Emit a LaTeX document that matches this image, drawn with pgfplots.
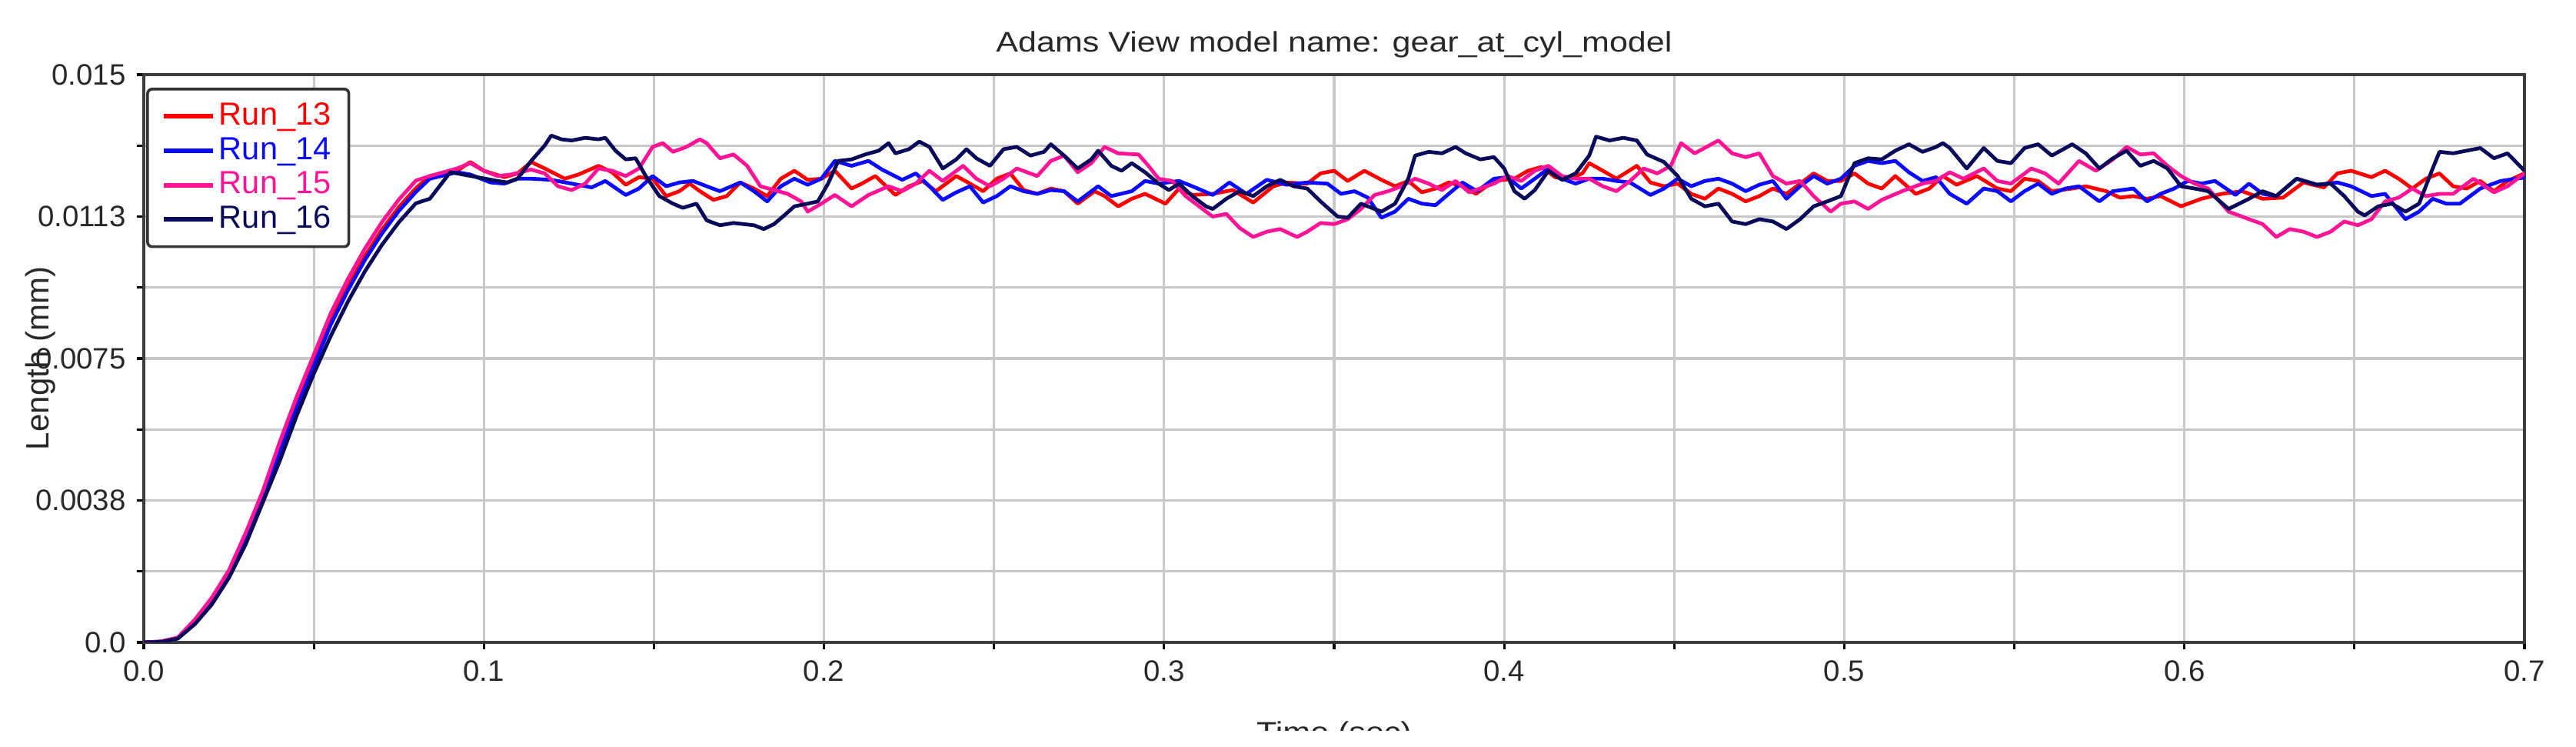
\documentclass[border=0pt]{standalone}
\usepackage{pgfplots}
\pgfplotsset{compat=1.18}
\usepackage{fontspec}
\setmainfont{Liberation Sans}
\definecolor{run13}{RGB}{255,0,0}
\definecolor{run14}{RGB}{10,10,255}
\definecolor{run15}{RGB}{255,20,150}
\definecolor{run16}{RGB}{10,10,90}
\definecolor{axgray}{RGB}{60,60,60}
\definecolor{gridgray}{RGB}{200,200,200}
\definecolor{txt}{RGB}{40,40,40}
\begin{document}
\begin{tikzpicture}
\useasboundingbox (0,0) rectangle (837.5pt,242.75pt);
\begin{axis}[
  at={(46.75pt,34pt)}, anchor=south west,
  scale only axis, width=774pt, height=184.5pt,
  xmin=0, xmax=0.7, ymin=0, ymax=0.015,
  scaled ticks=false,
  xtick={0,0.05,0.1,0.15,0.2,0.25,0.3,0.35,0.4,0.45,0.5,0.55,0.6,0.65,0.7},
  xticklabels={0.0,,0.1,,0.2,,0.3,,0.4,,0.5,,0.6,,0.7},
  ytick={0,0.001875,0.00375,0.005625,0.0075,0.009375,0.01125,0.013125,0.015},
  yticklabels={0.0,,0.0038,,0.0075,,0.0113,,0.015},
  tick align=outside, xtick pos=bottom, ytick pos=left,
  major tick length=2.3pt,
  tick style={black, line width=0.8pt},
  grid=major, major grid style={gridgray, line width=0.8pt},
  axis line style={axgray, line width=1.1pt},
  tick label style={font=\fontsize{9.6}{11}\selectfont, text=txt},
  title={\scalebox{1.17}[1]{Adams View model name: gear\_at\_cyl\_model}},
  every axis title/.style={at={(axis description cs:0.5,1)}, anchor=base, yshift=7.25pt, font=\fontsize{9.2}{11}\selectfont, text=txt},
  xlabel={\scalebox{1.17}[1]{Time (sec)}},
  every axis x label/.style={at={(axis description cs:0.5,0)}, anchor=north, yshift=-25.5pt, inner sep=0pt, font=\fontsize{9.2}{11}\selectfont, text=txt},
  ylabel={Length (mm)},
  every axis y label/.style={at={(axis description cs:-0.0399,0.5)}, rotate=90, anchor=base, font=\fontsize{10.5}{12}\selectfont, text=txt},
  legend style={at={(rel axis cs:0.001,0.977)}, anchor=north west, draw=black!80, line width=0.9pt, rounded corners=1.5pt, fill=white,
    font=\fontsize{10.4}{11}\selectfont, inner xsep=4.5pt, inner ysep=3.2pt, row sep=0pt, column sep=0pt,
    nodes={inner ysep=1.25pt, inner xsep=1.25pt}},
  legend cell align=left,
  legend image code/.code={\draw[#1, line width=1.5pt] (0pt,0pt) -- (16pt,0pt);},
  every axis plot/.append style={line width=1.2pt, line join=round},
]
% Run_13
\addplot[run13] coordinates {
(0,0) (0.005,0.00002) (0.01,0.00012) (0.015,0.00055) (0.02,0.0011) (0.025,0.0018) (0.03,0.0028) (0.035,0.0039) (0.04,0.0051) (0.045,0.0063) (0.05,0.0074) (0.055,0.0085) (0.06,0.0094) (0.065,0.0102) (0.07,0.0109) (0.075,0.0115) (0.08,0.0120)
(0.0841,0.01232) (0.0921,0.01246) (0.0960,0.01269) (0.1000,0.01246) (0.1060,0.01229) (0.1099,0.01239) (0.1139,0.01269) (0.1179,0.01252) (0.1238,0.01225) (0.1278,0.01236) (0.1337,0.01259) (0.1377,0.01242) (0.1417,0.01209) (0.1456,0.01229) (0.1496,0.01225) (0.1536,0.01179) (0.1575,0.01192) (0.1605,0.01212) (0.1635,0.01192) (0.1675,0.01169) (0.1714,0.01179) (0.1754,0.01215) (0.1794,0.01199) (0.1833,0.01179) (0.1873,0.01225) (0.1913,0.01246) (0.1952,0.01222) (0.1992,0.01225) (0.2032,0.01246) (0.2081,0.01199) (0.2111,0.01212) (0.2151,0.01232) (0.2210,0.01182) (0.2250,0.01205) (0.2290,0.01219) (0.2329,0.01192) (0.2389,0.01232) (0.2429,0.01212) (0.2468,0.01192) (0.2508,0.01225) (0.2548,0.01239) (0.2587,0.01195) (0.2627,0.01185) (0.2667,0.01199) (0.2706,0.01192) (0.2746,0.01159) (0.2796,0.01192) (0.2825,0.01179) (0.2865,0.01152) (0.2905,0.01172) (0.2944,0.01185) (0.3004,0.01159) (0.3044,0.01199) (0.3083,0.01182) (0.3143,0.01185) (0.3202,0.01195) (0.3262,0.01162) (0.3321,0.01205) (0.3361,0.01215) (0.3421,0.01212) (0.3460,0.01239) (0.3500,0.01246) (0.3540,0.01219) (0.3589,0.01246) (0.3639,0.01222) (0.3679,0.01205) (0.3718,0.01219) (0.3758,0.01189) (0.3798,0.01199) (0.3837,0.01215) (0.3877,0.01205) (0.3917,0.01185)
(0.3970,0.01219) (0.4030,0.01225) (0.4070,0.01246) (0.4110,0.01256) (0.4150,0.01229) (0.4190,0.01225) (0.4230,0.01239) (0.4250,0.01266) (0.4290,0.01246) (0.4330,0.01225) (0.4390,0.01259) (0.4430,0.01215) (0.4470,0.01205) (0.4510,0.01212) (0.4550,0.01185) (0.4590,0.01172) (0.4630,0.01199) (0.4670,0.01185) (0.4710,0.01165) (0.4750,0.01179) (0.4790,0.01199) (0.4830,0.01185) (0.4870,0.01212) (0.4910,0.01239) (0.4950,0.01219) (0.4990,0.01219) (0.5030,0.01239) (0.5070,0.01212) (0.5110,0.01199) (0.5150,0.01232) (0.5210,0.01185) (0.5250,0.01199) (0.5290,0.01232) (0.5330,0.01209) (0.5390,0.01232) (0.5450,0.01199) (0.5490,0.01192) (0.5530,0.01225) (0.5570,0.01219) (0.5610,0.01192) (0.5670,0.01199) (0.5710,0.01205) (0.5770,0.01192) (0.5810,0.01175) (0.5850,0.01179) (0.5890,0.01172) (0.5930,0.01179) (0.5990,0.01152) (0.6050,0.01172) (0.6110,0.01185) (0.6170,0.01192) (0.6230,0.01172) (0.6290,0.01175) (0.6350,0.01215) (0.6410,0.01202) (0.6450,0.01239) (0.6490,0.01246) (0.6550,0.01229) (0.6590,0.01246) (0.6630,0.01225) (0.6670,0.01199) (0.6710,0.01225) (0.6750,0.01239) (0.6790,0.01205) (0.6830,0.01199) (0.6870,0.01219) (0.6910,0.01192) (0.6950,0.01219) (0.7000,0.01239)
};
\addlegendentry{\textcolor{run13}{Run\_13}}
% Run_14
\addplot[run14] coordinates {
(0,0) (0.005,0.00002) (0.01,0.00011) (0.015,0.0005) (0.02,0.00105) (0.025,0.00175) (0.03,0.0027) (0.035,0.0038) (0.04,0.0050) (0.045,0.0062) (0.05,0.0073) (0.055,0.0084) (0.06,0.0093) (0.065,0.0101) (0.07,0.0108) (0.075,0.0114) (0.08,0.0119)
(0.0841,0.01225) (0.0921,0.01242) (0.0960,0.01236) (0.1020,0.01215) (0.1060,0.01212) (0.1099,0.01225) (0.1139,0.01225) (0.1198,0.01222) (0.1258,0.01212) (0.1317,0.01202) (0.1357,0.01219) (0.1417,0.01182) (0.1456,0.01199) (0.1496,0.01232) (0.1536,0.01205) (0.1575,0.01215) (0.1615,0.01219) (0.1655,0.01205) (0.1694,0.01192) (0.1754,0.01215) (0.1794,0.01192) (0.1833,0.01165) (0.1873,0.01205) (0.1913,0.01225) (0.1952,0.01209) (0.1992,0.01225) (0.2032,0.01272) (0.2081,0.01259) (0.2131,0.01272) (0.2171,0.01249) (0.2230,0.01222) (0.2270,0.01239) (0.2310,0.01205) (0.2349,0.01169) (0.2389,0.01189) (0.2429,0.01205) (0.2468,0.01162) (0.2508,0.01179) (0.2548,0.01205) (0.2587,0.01192) (0.2627,0.01185) (0.2667,0.01195) (0.2706,0.01192) (0.2746,0.01165) (0.2806,0.01205) (0.2845,0.01179) (0.2905,0.01192) (0.2944,0.01219) (0.2984,0.01212) (0.3044,0.01219) (0.3083,0.01205) (0.3143,0.01182) (0.3192,0.01215) (0.3242,0.01185) (0.3302,0.01222) (0.3361,0.01209) (0.3421,0.01215) (0.3480,0.01212) (0.3520,0.01185) (0.3560,0.01192) (0.3599,0.01175) (0.3639,0.01122) (0.3679,0.01138) (0.3718,0.01172) (0.3758,0.01159) (0.3798,0.01155) (0.3837,0.01185) (0.3877,0.01215) (0.3920,0.01192)
(0.3970,0.01225) (0.4010,0.01229) (0.4050,0.01199) (0.4090,0.01225) (0.4130,0.01252) (0.4170,0.01225) (0.4210,0.01212) (0.4250,0.01225) (0.4290,0.01225) (0.4330,0.01219) (0.4370,0.01215) (0.4430,0.01182) (0.4470,0.01199) (0.4510,0.01225) (0.4550,0.01205) (0.4590,0.01219) (0.4630,0.01225) (0.4670,0.01212) (0.4710,0.01192) (0.4750,0.01209) (0.4790,0.01219) (0.4830,0.01172) (0.4870,0.01205) (0.4910,0.01232) (0.4950,0.01212) (0.4990,0.01225) (0.5030,0.01259) (0.5070,0.01272) (0.5110,0.01266) (0.5150,0.01272) (0.5190,0.01242) (0.5230,0.01219) (0.5270,0.01229) (0.5310,0.01185) (0.5360,0.01159) (0.5410,0.01199) (0.5450,0.01192) (0.5490,0.01165) (0.5530,0.01192) (0.5570,0.01212) (0.5610,0.01185) (0.5650,0.01199) (0.5690,0.01205) (0.5750,0.01165) (0.5790,0.01192) (0.5850,0.01199) (0.5890,0.01165) (0.5930,0.01185) (0.5970,0.01199) (0.6010,0.01219) (0.6050,0.01212) (0.6090,0.01219) (0.6150,0.01182) (0.6190,0.01212) (0.6230,0.01185) (0.6270,0.01179) (0.6330,0.01225) (0.6390,0.01209) (0.6450,0.01215) (0.6490,0.01205) (0.6550,0.01179) (0.6590,0.01185) (0.6650,0.01118) (0.6690,0.01138) (0.6730,0.01172) (0.6770,0.01159) (0.6810,0.01159) (0.6870,0.01199) (0.6930,0.01219) (0.7000,0.01228)
};
\addlegendentry{\textcolor{run14}{Run\_14}}
% Run_15
\addplot[run15] coordinates {
(0,0) (0.005,0.00002) (0.01,0.00013) (0.015,0.0006) (0.02,0.00118) (0.025,0.0019) (0.03,0.0029) (0.035,0.0040) (0.04,0.0053) (0.045,0.0065) (0.05,0.0076) (0.055,0.0087) (0.06,0.0096) (0.065,0.0104) (0.07,0.0111) (0.075,0.0117) (0.08,0.0122)
(0.0841,0.01232) (0.0921,0.01252) (0.0960,0.01266) (0.1000,0.01246) (0.1040,0.01232) (0.1079,0.01236) (0.1139,0.01249) (0.1179,0.01239) (0.1218,0.01205) (0.1258,0.01195) (0.1298,0.01212) (0.1337,0.01252) (0.1377,0.01246) (0.1417,0.01232) (0.1456,0.01252) (0.1496,0.01309) (0.1526,0.01319) (0.1556,0.01296) (0.1595,0.01309) (0.1635,0.01329) (0.1655,0.01319) (0.1694,0.01279) (0.1734,0.01289) (0.1774,0.01259) (0.1813,0.01205) (0.1853,0.01195) (0.1893,0.01185) (0.1933,0.01165) (0.1952,0.01138) (0.1992,0.01159) (0.2032,0.01182) (0.2081,0.01152) (0.2131,0.01182) (0.2190,0.01205) (0.2230,0.01192) (0.2270,0.01212) (0.2310,0.01246) (0.2349,0.01219) (0.2409,0.01259) (0.2448,0.01225) (0.2488,0.01205) (0.2528,0.01225) (0.2567,0.01252) (0.2627,0.01232) (0.2667,0.01272) (0.2706,0.01286) (0.2746,0.01242) (0.2786,0.01266) (0.2825,0.01309) (0.2865,0.01292) (0.2925,0.01289) (0.2954,0.01259) (0.2984,0.01225) (0.3024,0.01219) (0.3063,0.01179) (0.3103,0.01152) (0.3143,0.01125) (0.3183,0.01132) (0.3222,0.01095) (0.3262,0.01071) (0.3302,0.01085) (0.3341,0.01092) (0.3391,0.01071) (0.3421,0.01085) (0.3460,0.01108) (0.3500,0.01105) (0.3540,0.01118) (0.3579,0.01145) (0.3619,0.01182) (0.3659,0.01192) (0.3698,0.01205) (0.3738,0.01225) (0.3778,0.01212) (0.3817,0.01195) (0.3857,0.01219) (0.3897,0.01189)
(0.3970,0.01212) (0.4010,0.01232) (0.4050,0.01219) (0.4090,0.01246) (0.4130,0.01259) (0.4170,0.01232) (0.4210,0.01225) (0.4250,0.01225) (0.4290,0.01205) (0.4330,0.01192) (0.4370,0.01219) (0.4410,0.01252) (0.4450,0.01239) (0.4490,0.01259) (0.4520,0.01319) (0.4560,0.01292) (0.4630,0.01326) (0.4670,0.01292) (0.4710,0.01282) (0.4750,0.01292) (0.4790,0.01232) (0.4830,0.01212) (0.4870,0.01219) (0.4910,0.01179) (0.4960,0.01138) (0.4990,0.01159) (0.5030,0.01165) (0.5070,0.01145) (0.5110,0.01169) (0.5170,0.01192) (0.5230,0.01212) (0.5270,0.01219) (0.5310,0.01242) (0.5350,0.01225) (0.5410,0.01252) (0.5450,0.01219) (0.5490,0.01212) (0.5550,0.01252) (0.5590,0.01239) (0.5630,0.01212) (0.5690,0.01272) (0.5740,0.01246) (0.5790,0.01276) (0.5830,0.01309) (0.5870,0.01289) (0.5910,0.01292) (0.5950,0.01259) (0.5990,0.01232) (0.6030,0.01212) (0.6070,0.01199) (0.6130,0.01138) (0.6190,0.01118) (0.6230,0.01105) (0.6270,0.01071) (0.6310,0.01092) (0.6350,0.01085) (0.6390,0.01071) (0.6430,0.01085) (0.6470,0.01112) (0.6510,0.01102) (0.6550,0.01118) (0.6590,0.01165) (0.6630,0.01175) (0.6670,0.01199) (0.6710,0.01179) (0.6750,0.01185) (0.6790,0.01185) (0.6850,0.01225) (0.6910,0.01189) (0.6950,0.01205) (0.7000,0.01239)
};
\addlegendentry{\textcolor{run15}{Run\_15}}
% Run_16
\addplot[run16] coordinates {
(0,0) (0.005,0.00001) (0.01,0.0001) (0.015,0.00048) (0.02,0.001) (0.025,0.0017) (0.03,0.0026) (0.035,0.0037) (0.04,0.0048) (0.045,0.0060) (0.05,0.0071) (0.055,0.0081) (0.06,0.0090) (0.065,0.0098) (0.07,0.0105) (0.075,0.0111) (0.08,0.0116)
(0.0841,0.01172) (0.0901,0.01242) (0.0921,0.01239) (0.0980,0.01229) (0.1040,0.01219) (0.1069,0.01215) (0.1099,0.01225) (0.1139,0.01272) (0.1179,0.01313) (0.1198,0.01339) (0.1228,0.01329) (0.1258,0.01326) (0.1298,0.01333) (0.1337,0.01329) (0.1357,0.01333) (0.1387,0.01299) (0.1417,0.01276) (0.1446,0.01279) (0.1476,0.01232) (0.1516,0.01179) (0.1556,0.01159) (0.1585,0.01148) (0.1625,0.01159) (0.1655,0.01115) (0.1694,0.01102) (0.1734,0.01108) (0.1764,0.01105) (0.1794,0.01102) (0.1823,0.01092) (0.1853,0.01105) (0.1883,0.01128) (0.1913,0.01152) (0.1952,0.01159) (0.1982,0.01165) (0.2012,0.01212) (0.2042,0.01272) (0.2081,0.01276) (0.2121,0.01289) (0.2161,0.01299) (0.2190,0.01319) (0.2210,0.01292) (0.2250,0.01303) (0.2280,0.01323) (0.2310,0.01309) (0.2349,0.01252) (0.2389,0.01276) (0.2419,0.01303) (0.2448,0.01279) (0.2488,0.01259) (0.2528,0.01303) (0.2567,0.01309) (0.2607,0.01286) (0.2647,0.01296) (0.2667,0.01316) (0.2706,0.01286) (0.2746,0.01252) (0.2786,0.01276) (0.2806,0.01299) (0.2845,0.01259) (0.2875,0.01246) (0.2905,0.01266) (0.2944,0.01242) (0.2984,0.01212) (0.3014,0.01195) (0.3044,0.01212) (0.3083,0.01179) (0.3123,0.01152) (0.3143,0.01145) (0.3183,0.01172) (0.3222,0.01192) (0.3262,0.01179) (0.3302,0.01205) (0.3341,0.01222) (0.3381,0.01205) (0.3421,0.01199) (0.3460,0.01165) (0.3510,0.01125) (0.3540,0.01122) (0.3579,0.01159) (0.3619,0.01145) (0.3639,0.01138) (0.3679,0.01159) (0.3718,0.01225) (0.3738,0.01286) (0.3778,0.01296) (0.3817,0.01292) (0.3857,0.01309) (0.3887,0.01292)
(0.3930,0.01276) (0.3970,0.01282) (0.4000,0.01252) (0.4030,0.01192) (0.4060,0.01172) (0.4090,0.01195) (0.4130,0.01246) (0.4170,0.01222) (0.4210,0.01239) (0.4250,0.01286) (0.4270,0.01336) (0.4310,0.01326) (0.4350,0.01333) (0.4390,0.01326) (0.4420,0.01289) (0.4470,0.01269) (0.4510,0.01232) (0.4550,0.01172) (0.4590,0.01152) (0.4630,0.01159) (0.4670,0.01112) (0.4710,0.01105) (0.4750,0.01118) (0.4790,0.01112) (0.4830,0.01092) (0.4870,0.01118) (0.4910,0.01152) (0.4950,0.01165) (0.4990,0.01179) (0.5030,0.01266) (0.5070,0.01279) (0.5110,0.01276) (0.5150,0.01299) (0.5190,0.01316) (0.5230,0.01296) (0.5270,0.01309) (0.5290,0.01319) (0.5310,0.01306) (0.5360,0.01252) (0.5410,0.01306) (0.5450,0.01272) (0.5490,0.01266) (0.5530,0.01306) (0.5570,0.01316) (0.5610,0.01286) (0.5670,0.01316) (0.5710,0.01292) (0.5750,0.01252) (0.5790,0.01279) (0.5830,0.01299) (0.5870,0.01259) (0.5910,0.01272) (0.5950,0.01252) (0.5990,0.01205) (0.6030,0.01199) (0.6070,0.01192) (0.6130,0.01145) (0.6190,0.01172) (0.6230,0.01192) (0.6270,0.01179) (0.6330,0.01225) (0.6390,0.01209) (0.6430,0.01212) (0.6470,0.01179) (0.6510,0.01138) (0.6530,0.01128) (0.6570,0.01152) (0.6610,0.01159) (0.6650,0.01138) (0.6690,0.01159) (0.6730,0.01252) (0.6750,0.01296) (0.6790,0.01292) (0.6830,0.01299) (0.6870,0.01306) (0.6910,0.01279) (0.6950,0.01292) (0.7000,0.01246)
};
\addlegendentry{\textcolor{run16}{Run\_16}}
\end{axis}
\fill[white] (0,0) rectangle (837.5pt,5.25pt);
\end{tikzpicture}
\end{document}
